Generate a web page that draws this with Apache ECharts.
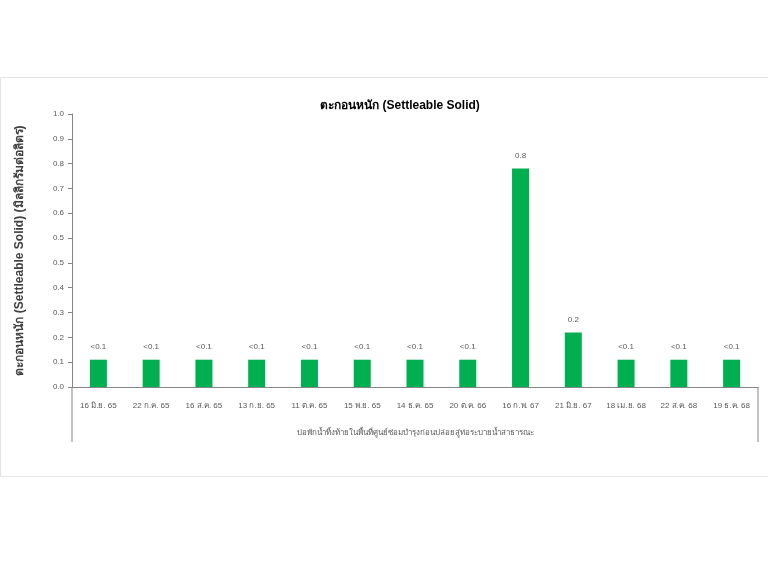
<!DOCTYPE html>
<html>
<head>
<meta charset="utf-8">
<script src="https://cdn.jsdelivr.net/npm/echarts@6/dist/echarts.min.js"></script>
<style>html,body{margin:0;padding:0;background:#fff}#c{width:768px;height:576px}</style>
</head>
<body>
<div id="c"></div>
<script>
var categories = ["16 มิ.ย. 65","22 ก.ค. 65","16 ส.ค. 65","13 ก.ย. 65","11 ต.ค. 65","15 พ.ย. 65","14 ธ.ค. 65","20 ต.ค. 66","16 ก.พ. 67","21 มิ.ย. 67","18 เม.ย. 68","22 ส.ค. 68","19 ธ.ค. 68"];
var values = [0.1,0.1,0.1,0.1,0.1,0.1,0.1,0.1,0.8,0.2,0.1,0.1,0.1];
var valueLabels = ["<0.1","<0.1","<0.1","<0.1","<0.1","<0.1","<0.1","<0.1","0.8","0.2","<0.1","<0.1","<0.1"];
var yTickLabels = ["0.0","0.1","0.2","0.3","0.4","0.5","0.5","0.6","0.7","0.8","0.9","1.0"];
var titleText = "ตะกอนหนัก (Settleable Solid)";
var yAxisTitle = "ตะกอนหนัก (Settleable Solid) (มิลลิกรัมต่อลิตร)";
var groupLabel = "บ่อพักน้ำทิ้งท้ายในพื้นที่ศูนย์ซ่อมบำรุงก่อนปล่อยสู่ท่อระบายน้ำสาธารณะ";

var chart = echarts.init(document.getElementById('c'), null, {renderer:'canvas'});
var nSteps = yTickLabels.length - 1;
var font = "'Liberation Sans', 'DejaVu Sans', sans-serif";
var option = {
  animation: false,
  backgroundColor: '#fff',
  title: {
    text: titleText, left: 395, top: 95, textAlign: 'center',
    textStyle: {fontSize: 12, fontWeight: 'bold', color: '#000', fontFamily: font}
  },
  grid: {left: 72, right: 10, top: 114, bottom: 189, containLabel: false},
  xAxis: {
    type: 'category', data: categories,
    axisLine: {lineStyle: {color: '#868686', width: 1}},
    axisTick: {show: false},
    axisLabel: {fontSize: 8, color: '#595959', margin: 15, interval: 0, fontFamily: font}
  },
  yAxis: {
    type: 'value', min: 0, max: 1, interval: 1 / nSteps,
    name: yAxisTitle, nameLocation: 'middle', nameRotate: 90, nameGap: 46,
    nameTextStyle: {fontSize: 12, fontWeight: 'bold', color: '#404040', fontFamily: font},
    axisLine: {show: true, lineStyle: {color: '#868686', width: 1}},
    axisTick: {show: true, inside: false, length: 4, lineStyle: {color: '#868686'}},
    splitLine: {show: false},
    axisLabel: {
      fontSize: 8, color: '#595959', margin: 8, fontFamily: font,
      formatter: function (v) { return yTickLabels[Math.round(v * nSteps)]; }
    }
  },
  series: [{
    type: 'bar', data: values, barWidth: 17,
    itemStyle: {color: '#00b050'},
    label: {
      show: true, position: 'top', distance: 9, fontSize: 8, color: '#595959', fontFamily: font,
      formatter: function (p) { return valueLabels[p.dataIndex]; }
    }
  }]
};
chart.setOption(option);

var gridRect = chart.getModel().getComponent('grid').coordinateSystem.getRect();
var xl = gridRect.x, xr = gridRect.x + gridRect.width, yb = gridRect.y + gridRect.height;
chart.setOption({
  graphic: [
    {type: 'rect', shape: {x: 0.5, y: 77.5, width: 768, height: 399}, style: {fill: 'none', stroke: '#e3e3e3', lineWidth: 1}, z: -1},
    {type: 'line', shape: {x1: xl, y1: yb, x2: xl, y2: yb + 55}, style: {stroke: '#868686', lineWidth: 1}},
    {type: 'line', shape: {x1: xr, y1: yb, x2: xr, y2: yb + 55}, style: {stroke: '#868686', lineWidth: 1}},
    {type: 'text', x: (xl + xr) / 2, y: yb + 46, style: {text: groupLabel, fill: '#595959', align: 'center', verticalAlign: 'middle', font: '8px ' + font}}
  ]
});
</script>
</body>
</html>
